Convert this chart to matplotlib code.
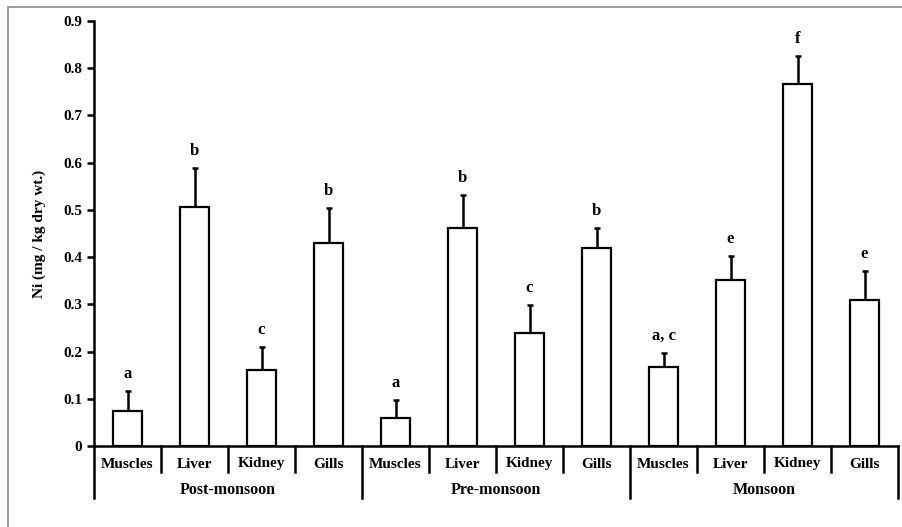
import numpy as np
from matplotlib import pyplot as plt
from matplotlib.patches import Rectangle
import matplotlib.transforms as mtransforms

plt.rcParams['font.family'] = ['Liberation Serif', 'DejaVu Serif']

# 数据
seasons = ['Post-monsoon', 'Pre-monsoon', 'Monsoon']
tissues = ['Muscles', 'Liver', 'Kidney', 'Gills']
means = [0.075, 0.507, 0.160, 0.430,
         0.060, 0.462, 0.240, 0.420,
         0.168, 0.352, 0.766, 0.310]
errs = [0.042, 0.081, 0.050, 0.075,
        0.038, 0.070, 0.058, 0.042,
        0.030, 0.050, 0.059, 0.060]
letters = ['a', 'b', 'c', 'b',
           'a', 'b', 'c', 'b',
           'a, c', 'e', 'f', 'e']

fig = plt.figure(figsize=(9.02, 5.27), dpi=100)
W, H = 902, 527
ax = fig.add_axes([94 / W, (H - 446) / H, (898 - 94) / W, (446 - 21) / H])

x = np.arange(len(means))
ax.bar(x, means, width=0.42, color='white', edgecolor='black', linewidth=1.6, zorder=2)
ax.errorbar(x, means, yerr=[np.zeros(len(errs)), errs], fmt='none', ecolor='black',
            elinewidth=1.8, capsize=2, capthick=1.8, zorder=1)
for xi, m, e, t in zip(x, means, errs, letters):
    ax.text(xi, m + e + 0.019, t, ha='center', va='bottom', fontsize=12, fontweight='bold')

ax.set_xlim(-0.5, 11.5)
ax.set_ylim(0, 0.9)
ax.set_yticks(np.arange(0, 0.91, 0.1))
ax.set_yticklabels(['0'] + ['%.1f' % v for v in np.arange(0.1, 0.91, 0.1)],
                   fontsize=11, fontweight='bold')
ax.set_xticks([])
ax.tick_params(axis='y', direction='out', length=5, width=1.8)
for s in ['top', 'right']:
    ax.spines[s].set_visible(False)
ax.spines['left'].set_linewidth(1.8)
ax.spines['bottom'].set_linewidth(1.8)
ax.set_ylabel('Ni (mg / kg dry wt.)', fontsize=11, fontweight='bold', labelpad=12)

# 分层的x轴标签
trans = mtransforms.blended_transform_factory(ax.transData, ax.transAxes)
short_y = -26 / 425
long_y = -52 / 425
for i in range(len(means)):
    ax.text(i, -18 / 425, tissues[i % 4], transform=trans, ha='center', va='center',
            fontsize=11, fontweight='bold')
    if i % 4 != 3:
        ax.plot([i + 0.5, i + 0.5], [0, short_y], transform=trans, color='black',
                lw=1.8, clip_on=False)
for g in range(len(seasons) + 1):
    ax.plot([g * 4 - 0.5, g * 4 - 0.5], [0, long_y], transform=trans, color='black',
            lw=1.8, clip_on=False)
for g, name in enumerate(seasons):
    ax.text(g * 4 + 1.5, -44 / 425, name, transform=trans, ha='center', va='center',
            fontsize=11.5, fontweight='bold')

# 灰色边框
fig.patches.append(Rectangle((8 / W, -0.1), 1.0, (H - 7) / H + 0.1, transform=fig.transFigure,
                             fill=False, edgecolor='#8c8c8c', lw=1.2))

fig.savefig('out.png', dpi=100)
